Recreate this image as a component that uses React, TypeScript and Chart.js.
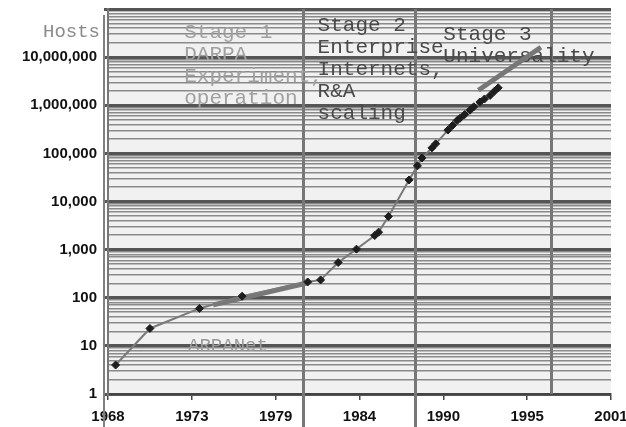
import { useEffect, useRef } from 'react';
import { Chart, registerables } from 'chart.js';

Chart.register(...registerables);

// Host counts (positioned on the chart's own year axis)
const hostYears = [
  1968.5, 1970.75, 1974.0, 1976.8, 1981.1, 1981.95, 1983.1, 1984.3, 1985.5, 1985.75,
  1986.4, 1987.75, 1988.3, 1988.6, 1989.25, 1989.5, 1990.3, 1990.6, 1990.9, 1991.1,
  1991.4, 1991.75, 1992.0, 1992.4, 1992.7, 1993.07, 1993.35, 1993.6,
];
const hostCounts = [
  4, 23, 60, 108, 213, 235, 540, 1024, 1961, 2308,
  4900, 28000, 55000, 80000, 130000, 158000, 305000, 380000, 480000, 540000,
  640000, 790000, 930000, 1170000, 1350000, 1600000, 1950000, 2300000,
];

// Thick grey trend segments
const trendEarlyYears = [1974.9, 1981.05];
const trendEarlyCounts = [71, 203];
const trendLateYears = [1992.3, 1996.4];
const trendLateCounts = [2050000, 16000000];

// Stage boundaries (years)
const stageBoundaries = [1980.8, 1988.15, 1997.07];

// Axis ticks
const xTickYears = [1968, 1973.5, 1979, 1984.5, 1990, 1995.5, 2001];
const xTickLabels = ['1968', '1973', '1979', '1984', '1990', '1995', '2001'];
const yDecades = [1, 10, 100, 1000, 10000, 100000, 1000000, 10000000, 100000000];
const yDecadeLabels = ['1', '10', '100', '1,000', '10,000', '100,000', '1,000,000', '10,000,000', ''];

// Annotation texts
const stage1Lines = ['Stage 1', 'DARPA', 'Experiment,', 'operation'];
const stage2Lines = ['Stage 2', 'Enterprise', 'Internets,', 'R&A', 'scaling'];
const stage3Lines = ['Stage 3', 'Universality'];
const arpaLabel = 'ARPANet';
const yTitle = 'Hosts';

const MONO = '"Liberation Mono", "Courier New", monospace';
const SANS = '"Liberation Sans", Arial, sans-serif';

const isDecade = (v: number) => {
  const l = Math.log10(v);
  return Math.abs(l - Math.round(l)) < 1e-9;
};

const decorPlugin = {
  id: 'decor',
  beforeDraw(chart: any) {
    const { ctx, chartArea } = chart;
    ctx.save();
    ctx.fillStyle = '#ffffff';
    ctx.fillRect(0, 0, chart.width, chart.height);
    ctx.fillStyle = '#f1f1f1';
    ctx.fillRect(chartArea.left, chartArea.top, chartArea.right - chartArea.left, chartArea.bottom - chartArea.top);
    ctx.restore();
  },
  beforeDatasetsDraw(chart: any) {
    const { ctx, chartArea, scales } = chart;
    const x = scales.x;
    const y = scales.y;
    ctx.save();
    // outer left frame line
    ctx.strokeStyle = '#808080';
    ctx.lineWidth = 2;
    ctx.beginPath();
    ctx.moveTo(chartArea.left - 4, chartArea.top + 6);
    ctx.lineTo(chartArea.left - 4, chart.height);
    ctx.stroke();
    // stage boundaries
    ctx.strokeStyle = '#777777';
    ctx.lineWidth = 3;
    stageBoundaries.forEach((yr, i) => {
      const px = Math.round(x.getPixelForValue(yr)) + 0.5;
      ctx.beginPath();
      ctx.moveTo(px, chartArea.top);
      ctx.lineTo(px, i < 2 ? chart.height : chartArea.bottom);
      ctx.stroke();
    });

    // texts
    const lh = 22;
    const drawBlock = (lines: string[], yr: number, baseTop: number, color: string) => {
      ctx.fillStyle = color;
      ctx.font = '21px ' + MONO;
      ctx.textAlign = 'left';
      ctx.textBaseline = 'alphabetic';
      const px = x.getPixelForValue(yr);
      lines.forEach((t, i) => ctx.fillText(t, px, chartArea.top + baseTop + i * lh));
    };
    drawBlock(stage1Lines, 1973.0, 29, '#a0a0a0');
    drawBlock(stage2Lines, 1981.75, 22, '#4a4a4a');
    drawBlock(stage3Lines, 1990.0, 31, '#4a4a4a');

    ctx.font = '19px ' + MONO;
    ctx.fillStyle = '#9a9a9a';
    ctx.textBaseline = 'middle';
    ctx.fillText(arpaLabel, x.getPixelForValue(1973.25), y.getPixelForValue(10));

    ctx.fillStyle = '#8a8a8a';
    ctx.textAlign = 'right';
    ctx.textBaseline = 'alphabetic';
    ctx.fillText(yTitle, chartArea.left - 8, chartArea.top + 28);
    ctx.restore();
  },
};

export default function App() {
  const ref = useRef<HTMLCanvasElement>(null);
  useEffect(() => {
    if (!ref.current) return;
    const chart = new Chart(ref.current, {
      type: 'line',
      data: {
        datasets: [
          {
            data: hostYears.map((yr, i) => ({ x: yr, y: hostCounts[i] })),
            borderColor: '#7a7a7a',
            borderWidth: 2,
            pointStyle: 'rectRot',
            pointRadius: 4,
            pointBackgroundColor: '#1e1e1e',
            pointBorderColor: '#1e1e1e',
            pointBorderWidth: 1,
            tension: 0,
          },
          {
            data: trendEarlyYears.map((yr, i) => ({ x: yr, y: trendEarlyCounts[i] })),
            borderColor: '#777777',
            borderWidth: 5,
            pointRadius: 0,
          },
          {
            data: trendLateYears.map((yr, i) => ({ x: yr, y: trendLateCounts[i] })),
            borderColor: '#777777',
            borderWidth: 5,
            pointRadius: 0,
          },
        ],
      },
      options: {
        responsive: false,
        animation: false,
        layout: { padding: { top: 9, left: 0, right: 15, bottom: 0 } },
        plugins: { legend: { display: false }, tooltip: { enabled: false } },
        scales: {
          x: {
            type: 'linear',
            min: 1968,
            max: 2001,
            afterBuildTicks: (s: any) => {
              s.ticks = xTickYears.map((v) => ({ value: v }));
            },
            afterFit: (s: any) => {
              s.height = 33;
              s.paddingLeft = 0;
              s.paddingRight = 0;
            },
            ticks: {
              autoSkip: false,
              maxRotation: 0,
              padding: 8,
              color: '#111',
              font: { family: SANS, size: 15, weight: 'bold' },
              callback: (_v: any, i: number) => xTickLabels[i],
            },
            grid: {
              drawOnChartArea: false,
              drawTicks: true,
              tickLength: 6,
              color: '#444',
              lineWidth: 1.5,
            },
            border: { display: true, color: '#444', width: 2 },
          },
          y: {
            type: 'logarithmic',
            min: 1,
            max: 100000000,
            afterBuildTicks: (s: any) => {
              const t: any[] = [];
              for (let k = 0; k < 8; k++) {
                for (let m = 1; m <= 9; m++) t.push({ value: m * Math.pow(10, k) });
              }
              t.push({ value: 100000000 });
              s.ticks = t;
            },
            afterFit: (s: any) => {
              s.width = 108;
              s.paddingTop = 0;
              s.paddingBottom = 0;
            },
            ticks: {
              autoSkip: false,
              padding: 7,
              color: '#111',
              font: { family: SANS, size: 15, weight: 'bold' },
              callback: (v: any) => {
                const idx = yDecades.findIndex((d) => Math.abs(d - Number(v)) < 1e-6 * d);
                return idx >= 0 ? yDecadeLabels[idx] : '';
              },
            },
            grid: {
              drawTicks: true,
              tickLength: 4,
              color: (c: any) => (isDecade(c.tick.value) ? '#555' : '#8a8a8a'),
              lineWidth: (c: any) => (isDecade(c.tick.value) ? 3 : 1.5),
              tickColor: (c: any) => (isDecade(c.tick.value) ? '#555' : 'rgba(0,0,0,0)'),
            },
            border: { display: true, color: '#777', width: 2 },
          },
        },
      },
      plugins: [decorPlugin],
    } as any);
    return () => chart.destroy();
  }, []);
  return (
    <div style={{ position: 'fixed', left: 0, top: 0, width: 626, height: 427 }}>
      <canvas ref={ref} width={626} height={427} style={{ display: 'block' }} />
    </div>
  );
}
